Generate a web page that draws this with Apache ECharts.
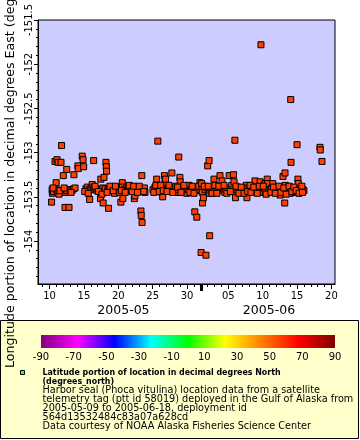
<!DOCTYPE html>
<html><head><meta charset="utf-8">
<script src="https://cdn.jsdelivr.net/npm/echarts@6/dist/echarts.min.js"></script>
<style>html,body{margin:0;padding:0;background:#fff}#c{width:360px;height:440px}</style>
</head><body><div id="c"></div>
<script>
// ---- data (UTC) ----
const mayTimes = [
"2005-05-10 07:00","2005-05-10 09:00","2005-05-10 10:00","2005-05-10 14:00","2005-05-10 19:00","2005-05-10 23:00",
"2005-05-11 01:00","2005-05-11 02:00","2005-05-11 05:00","2005-05-11 06:00","2005-05-11 16:00","2005-05-11 18:00",
"2005-05-12 00:00","2005-05-12 06:00","2005-05-12 07:00","2005-05-12 09:00","2005-05-12 12:00","2005-05-12 13:00","2005-05-12 20:00",
"2005-05-13 00:00","2005-05-13 06:00","2005-05-13 12:00","2005-05-13 13:00","2005-05-13 17:00",
"2005-05-14 03:00","2005-05-14 04:00","2005-05-14 18:00","2005-05-14 21:00","2005-05-14 23:00",
"2005-05-15 07:00","2005-05-15 12:00","2005-05-15 18:00","2005-05-15 20:00",
"2005-05-16 01:00","2005-05-16 05:00","2005-05-16 09:00","2005-05-16 10:00","2005-05-16 11:00","2005-05-16 18:00","2005-05-16 22:00",
"2005-05-17 07:00","2005-05-17 10:00","2005-05-17 11:00","2005-05-17 13:00","2005-05-17 18:00","2005-05-17 19:00","2005-05-17 21:00","2005-05-17 22:00",
"2005-05-18 02:00","2005-05-18 05:00","2005-05-18 06:00","2005-05-18 07:00","2005-05-18 12:00","2005-05-18 14:00","2005-05-18 16:00","2005-05-18 23:00",
"2005-05-19 02:00","2005-05-19 09:00","2005-05-19 11:00","2005-05-19 18:00","2005-05-19 19:00",
"2005-05-20 00:00","2005-05-20 02:00","2005-05-20 09:00","2005-05-20 14:00","2005-05-20 15:00","2005-05-20 16:00","2005-05-20 21:00",
"2005-05-21 03:00","2005-05-21 06:00","2005-05-21 11:00","2005-05-21 17:00","2005-05-21 20:00",
"2005-05-22 03:00","2005-05-22 08:00","2005-05-22 10:00","2005-05-22 13:00","2005-05-22 17:00","2005-05-22 21:00",
"2005-05-23 04:00","2005-05-23 07:00","2005-05-23 08:00","2005-05-23 10:00","2005-05-23 11:00","2005-05-23 14:00","2005-05-23 19:00","2005-05-23 21:00",
"2005-05-25 01:00","2005-05-25 08:00","2005-05-25 14:00","2005-05-25 15:00","2005-05-25 18:00","2005-05-25 20:00",
"2005-05-26 02:00","2005-05-26 07:00","2005-05-26 08:00","2005-05-26 11:00","2005-05-26 16:00","2005-05-26 17:00","2005-05-26 19:00","2005-05-26 21:00","2005-05-26 23:00",
"2005-05-27 06:00","2005-05-27 12:00","2005-05-27 16:00","2005-05-27 19:00",
"2005-05-28 00:00","2005-05-28 01:00","2005-05-28 06:00","2005-05-28 13:00","2005-05-28 18:00","2005-05-28 19:00","2005-05-28 23:00",
"2005-05-29 00:00","2005-05-29 01:00","2005-05-29 06:00","2005-05-29 10:00","2005-05-29 17:00","2005-05-29 23:00",
"2005-05-30 00:00","2005-05-30 04:00","2005-05-30 07:00","2005-05-30 14:00","2005-05-30 22:00","2005-05-30 23:00",
"2005-05-31 03:00","2005-05-31 04:00","2005-05-31 07:00","2005-05-31 10:00","2005-05-31 14:00","2005-05-31 21:00",
"2005-05-10 12:00","2005-05-11 09:00","2005-05-11 12:00","2005-05-12 03:00","2005-05-13 03:00","2005-05-15 03:00",
"2005-05-15 15:00","2005-05-16 15:00","2005-05-17 03:00","2005-05-17 15:00","2005-05-18 09:00","2005-05-18 19:00",
"2005-05-19 06:00","2005-05-19 14:00","2005-05-20 05:00","2005-05-20 11:00","2005-05-21 00:00","2005-05-21 14:00",
"2005-05-22 00:00","2005-05-22 06:00","2005-05-22 19:00","2005-05-23 01:00","2005-05-23 17:00","2005-05-25 04:00",
"2005-05-25 11:00","2005-05-25 23:00","2005-05-26 04:00","2005-05-26 13:00","2005-05-27 02:00","2005-05-27 09:00",
"2005-05-27 22:00","2005-05-28 09:00","2005-05-28 15:00","2005-05-29 03:00","2005-05-29 13:00","2005-05-30 10:00",
"2005-05-30 18:00","2005-05-31 00:00","2005-05-31 17:00"
];
const mayLons = [
-153.56,-153.42,-153.46,-153.44,-153.10,-153.34,
-153.42,-153.08,-153.45,-153.11,-153.11,-152.92,
-153.26,-153.62,-153.45,-153.42,-153.19,-153.43,-153.62,
-153.42,-153.43,-153.41,-153.25,-153.40,
-153.15,-153.18,-153.04,-153.08,-153.16,
-153.41,-153.39,-153.42,-153.53,
-153.40,-153.36,-153.42,-153.09,-153.39,-153.41,-153.43,
-153.42,-153.52,-153.30,-153.45,-153.40,-153.57,-153.44,-153.28,
-153.41,-153.11,-153.16,-153.21,-153.42,-153.63,-153.40,-153.42,
-153.40,-153.40,-153.46,-153.42,-153.40,
-153.42,-153.40,-153.56,-153.34,-153.39,-153.52,-153.42,
-153.41,-153.43,-153.39,-153.42,-153.40,
-153.41,-153.52,-153.49,-153.40,-153.42,-153.40,
-153.42,-153.66,-153.71,-153.26,-153.79,-153.42,-153.40,-153.45,
-153.42,-153.39,-153.30,-153.43,-152.87,-153.40,
-153.40,-153.42,-153.45,-153.50,-153.41,-153.26,-153.34,-153.30,-153.43,
-153.40,-153.42,-153.40,-153.23,
-153.39,-153.44,-153.41,-153.45,-153.42,-153.05,-153.28,
-153.33,-153.40,-153.42,-153.40,-153.42,-153.46,
-153.41,-153.42,-153.37,-153.42,-153.40,-153.44,
-153.67,-153.40,-153.43,-153.73,-153.42,-153.34,
-153.40,-153.47,-153.43,-153.40,-153.45,-153.44,
-153.46,-153.38,-153.44,-153.47,-153.45,-153.38,
-153.43,-153.38,-153.45,-153.43,-153.45,-153.37,
-153.44,-153.38,-153.45,-153.38,-153.44,-153.45,
-153.37,-153.44,-153.37,-153.43,-153.44,-153.37,
-153.45,-153.38,-153.39,-153.45,-153.37,-153.45,
-153.38,-153.46,-153.38
];
const juneTimes = [
"2005-06-01 01:00","2005-06-01 03:00","2005-06-01 04:00","2005-06-01 05:00","2005-06-01 06:00","2005-06-01 09:00","2005-06-01 15:00","2005-06-01 18:00","2005-06-01 22:00",
"2005-06-02 00:00","2005-06-02 05:00","2005-06-02 06:00","2005-06-02 07:00","2005-06-02 12:00","2005-06-02 20:00","2005-06-02 22:00",
"2005-06-03 05:00","2005-06-03 12:00","2005-06-03 19:00","2005-06-03 20:00",
"2005-06-04 02:00","2005-06-04 06:00","2005-06-04 12:00","2005-06-04 16:00","2005-06-04 23:00",
"2005-06-05 03:00","2005-06-05 12:00","2005-06-05 13:00","2005-06-05 18:00","2005-06-05 20:00","2005-06-05 23:00",
"2005-06-06 00:00","2005-06-06 01:00","2005-06-06 06:00","2005-06-06 10:00","2005-06-06 17:00",
"2005-06-07 00:00","2005-06-07 04:00","2005-06-07 10:00","2005-06-07 15:00","2005-06-07 16:00","2005-06-07 17:00",
"2005-06-08 00:00","2005-06-08 10:00","2005-06-08 14:00","2005-06-08 21:00",
"2005-06-09 01:00","2005-06-09 09:00","2005-06-09 15:00","2005-06-09 16:00","2005-06-09 18:00",
"2005-06-10 00:00","2005-06-10 05:00","2005-06-10 08:00","2005-06-10 09:00","2005-06-10 16:00","2005-06-10 17:00","2005-06-10 20:00",
"2005-06-11 02:00","2005-06-11 07:00","2005-06-11 11:00","2005-06-11 16:00","2005-06-11 23:00",
"2005-06-12 02:00","2005-06-12 06:00","2005-06-12 12:00","2005-06-12 13:00","2005-06-12 19:00","2005-06-12 23:00",
"2005-06-13 05:00","2005-06-13 06:00","2005-06-13 07:00","2005-06-13 08:00","2005-06-13 13:00","2005-06-13 17:00","2005-06-13 23:00",
"2005-06-14 00:00","2005-06-14 02:00","2005-06-14 03:00","2005-06-14 10:00","2005-06-14 17:00",
"2005-06-15 00:00","2005-06-15 03:00","2005-06-15 04:00","2005-06-15 05:00","2005-06-15 10:00","2005-06-15 14:00","2005-06-15 21:00",
"2005-06-16 00:00",
"2005-06-18 08:00","2005-06-18 09:00","2005-06-18 15:00",
"2005-06-01 12:00","2005-06-02 02:00","2005-06-02 15:00","2005-06-03 01:00","2005-06-03 08:00","2005-06-03 15:00",
"2005-06-04 09:00","2005-06-04 19:00","2005-06-05 07:00","2005-06-06 03:00","2005-06-06 13:00","2005-06-06 21:00",
"2005-06-07 07:00","2005-06-07 20:00","2005-06-08 04:00","2005-06-08 07:00","2005-06-08 17:00","2005-06-09 05:00",
"2005-06-09 12:00","2005-06-10 02:00","2005-06-10 12:00","2005-06-11 05:00","2005-06-11 14:00","2005-06-11 20:00",
"2005-06-12 09:00","2005-06-12 16:00","2005-06-13 02:00","2005-06-13 10:00","2005-06-13 20:00","2005-06-14 06:00",
"2005-06-14 13:00","2005-06-14 21:00","2005-06-15 07:00","2005-06-15 17:00","2005-06-15 19:00"
];
const juneLons = [
-154.13,-153.35,-153.42,-153.45,-153.57,-153.51,-153.42,-154.16,-153.40,
-153.15,-153.09,-153.46,-153.94,-153.43,-153.42,-153.30,
-153.41,-153.43,-153.26,-153.40,
-153.32,-153.41,-153.45,-153.42,-153.40,
-153.26,-153.37,-153.42,-153.25,-153.33,-152.86,
-153.45,-153.51,-153.42,-153.40,-153.43,
-153.45,-153.42,-153.42,-153.37,-153.40,-153.51,
-153.41,-153.42,-153.43,-153.32,
-153.41,-153.44,-153.33,-153.42,-151.78,
-153.45,-153.40,-153.35,-153.44,-153.30,-153.35,-153.42,
-153.42,-153.40,-153.35,-153.43,-153.41,
-153.44,-153.43,-153.42,-153.48,-153.41,-153.27,
-153.57,-153.23,-153.37,-153.44,-153.42,-153.40,-153.42,
-153.46,-152.40,-153.11,-153.42,-153.45,
-152.91,-153.30,-153.35,-153.42,-153.41,-153.44,-153.42,
-153.43,
-152.94,-152.97,-153.10,
-153.38,-153.38,-153.46,-153.37,-153.46,-153.38,
-153.37,-153.46,-153.44,-153.38,-153.46,-153.39,
-153.46,-153.44,-153.37,-153.45,-153.39,-153.46,
-153.38,-153.38,-153.47,-153.45,-153.39,-153.46,
-153.38,-153.45,-153.40,-153.47,-153.38,-153.44,
-153.39,-153.43,-153.46,-153.38,-153.45
];
const xRange = ["2005-05-08 07:41","2005-06-20 12:29"];
const xTickDates = ["2005-05-10","2005-05-15","2005-05-20","2005-05-25","2005-05-30","2005-06-05","2005-06-10","2005-06-15","2005-06-20"];
const monthStartDate = "2005-06-01";
const monthLabelAt = ["2005-05-20 18:00","2005-06-10 22:00"];
const yRange = [-154.486, -151.5];
const yMajorTicks = [-154, -153.5, -153, -152.5, -152, -151.5];
const colorbarTicks = [-90,-70,-50,-30,-10,10,30,50,70,90];
const rainbow = ["#800080","#ff00ff","#0000ff","#00ffff","#00ff00","#ffff00","#ff8000","#ff0000","#800000"];
const yTitle = "Longitude portion of location in decimal degrees East (degrees_east)";
const legendTitle = ["Latitude portion of location in decimal degrees North","(degrees_north)"];
const legendLines = [
"Harbor seal (Phoca vitulina) location data from a satellite",
"telemetry tag (ptt id 58019) deployed in the Gulf of Alaska from",
"2005-05-09 to 2005-06-18, deployment id",
"564d13532484c83a07a628cd",
"Data courtesy of NOAA Alaska Fisheries Science Center"
];

// ---- helpers ----
function toMs(s){
  const [d,t] = s.split(' ');
  const [Y,M,D] = d.split('-').map(Number);
  const [h,mi] = (t||'00:00').split(':').map(Number);
  return Date.UTC(Y,M-1,D,h,mi);
}
const pad2 = n => (n<10?'0':'')+n;
const FONT = 'DejaVu Sans';
const data = [];
mayTimes.forEach((t,i)=>data.push([toMs(t), mayLons[i]]));
juneTimes.forEach((t,i)=>data.push([toMs(t), juneLons[i]]));
const xMin = toMs(xRange[0]), xMax = toMs(xRange[1]);
const majorMs = xTickDates.map(toMs);
const dayMs = [];
for (let t = toMs("2005-05-09"); t <= xMax; t += 86400000) dayMs.push(t);
const yMinor = [];
for (let v = -154.4; v < -151.49; v += 0.1) yMinor.push(Math.round(v*10)/10);

const chart = echarts.init(document.getElementById('c'), null, {renderer:'canvas'});
const gradStops = rainbow.map((c,i)=>({offset:i/(rainbow.length-1), color:c}));

const baseX = {type:'value', gridIndex:0, position:'bottom', offset:0, min:xMin, max:xMax, splitLine:{show:false}};
const option = {
  animation:false,
  grid:[
    {left:38, top:20, width:297, height:264, show:true, backgroundColor:'#ccccff', borderColor:'#000', borderWidth:1},
    {left:41, top:335, width:294, height:13, show:true, borderWidth:0,
     backgroundColor:new echarts.graphic.LinearGradient(0,0,1,0,gradStops)}
  ],
  xAxis:[
    Object.assign({}, baseX, {
      axisLine:{show:true, lineStyle:{color:'#000', width:1}},
      axisTick:{show:true, length:5, customValues:majorMs, lineStyle:{color:'#000'}},
      axisLabel:{show:true, customValues:majorMs, margin:7, fontFamily:FONT, fontSize:10, color:'#000',
        formatter:v=>pad2(new Date(v).getUTCDate())}
    }),
    Object.assign({}, baseX, {
      axisLine:{show:false},
      axisTick:{show:true, length:3, customValues:dayMs, lineStyle:{color:'#000'}},
      axisLabel:{show:false}
    }),
    Object.assign({}, baseX, {
      axisLine:{show:false},
      axisTick:{show:true, length:7, customValues:[toMs(monthStartDate)], lineStyle:{color:'#000', width:3}},
      axisLabel:{show:false}
    }),
    Object.assign({}, baseX, {
      axisLine:{show:false}, axisTick:{show:false},
      axisLabel:{show:true, customValues:monthLabelAt.map(toMs), margin:20, fontFamily:FONT, fontSize:12.5, color:'#000',
        formatter:v=>{const d=new Date(v); return d.getUTCFullYear()+'-'+pad2(d.getUTCMonth()+1);}}
    }),
    {type:'value', gridIndex:1, position:'bottom', min:-90, max:90, axisLine:{show:false}, axisTick:{show:false}, splitLine:{show:false},
     axisLabel:{show:true, customValues:colorbarTicks, margin:4, fontFamily:FONT, fontSize:10, color:'#000'}}
  ],
  yAxis:[
    {type:'value', gridIndex:0, position:'left', offset:0, min:yRange[0], max:yRange[1], splitLine:{show:false},
     axisLine:{show:true, lineStyle:{color:'#000'}},
     axisTick:{show:true, length:4, customValues:yMajorTicks, lineStyle:{color:'#000'}},
     axisLabel:{show:true, customValues:yMajorTicks, rotate:90, margin:4, fontFamily:FONT, fontSize:10, color:'#000'}},
    {type:'value', gridIndex:0, position:'left', offset:0, min:yRange[0], max:yRange[1], splitLine:{show:false},
     axisLine:{show:false},
     axisTick:{show:true, length:2, customValues:yMinor, lineStyle:{color:'#000'}},
     axisLabel:{show:false}},
    {type:'value', gridIndex:1, min:0, max:1, show:false}
  ],
  series:[{
    type:'scatter', xAxisIndex:0, yAxisIndex:0, data:data,
    symbol:'rect', symbolSize:6,
    itemStyle:{color:'#ff4000', borderColor:'#000', borderWidth:1, opacity:1}
  }],
  graphic:[
    {type:'text', x:11, y:368, rotation:Math.PI/2,
     style:{text:yTitle, font:'12.6px "DejaVu Sans"', fill:'#000', align:'left', verticalAlign:'middle'}},
    {type:'rect', shape:{x:0.5, y:320.5, width:358, height:118}, style:{fill:'#ffffcc', stroke:'#000', lineWidth:1}, z:-10},
    {type:'rect', shape:{x:20.5, y:370.5, width:4, height:4}, style:{fill:'#33ff33', stroke:'#000', lineWidth:1}},
    ...legendTitle.map((t,i)=>({type:'text', x:42.5, y:373+i*8.85, scaleX:0.91,
      style:{text:t, font:'bold 8.7px "DejaVu Sans"', fill:'#000', align:'left', verticalAlign:'middle'}})),
    ...legendLines.map((t,i)=>({type:'text', x:42.5, y:373+(i+2)*8.85,
      style:{text:t, font:'9.7px "DejaVu Sans"', fill:'#000', align:'left', verticalAlign:'middle'}}))
  ]
};
chart.setOption(option);
</script></body></html>
